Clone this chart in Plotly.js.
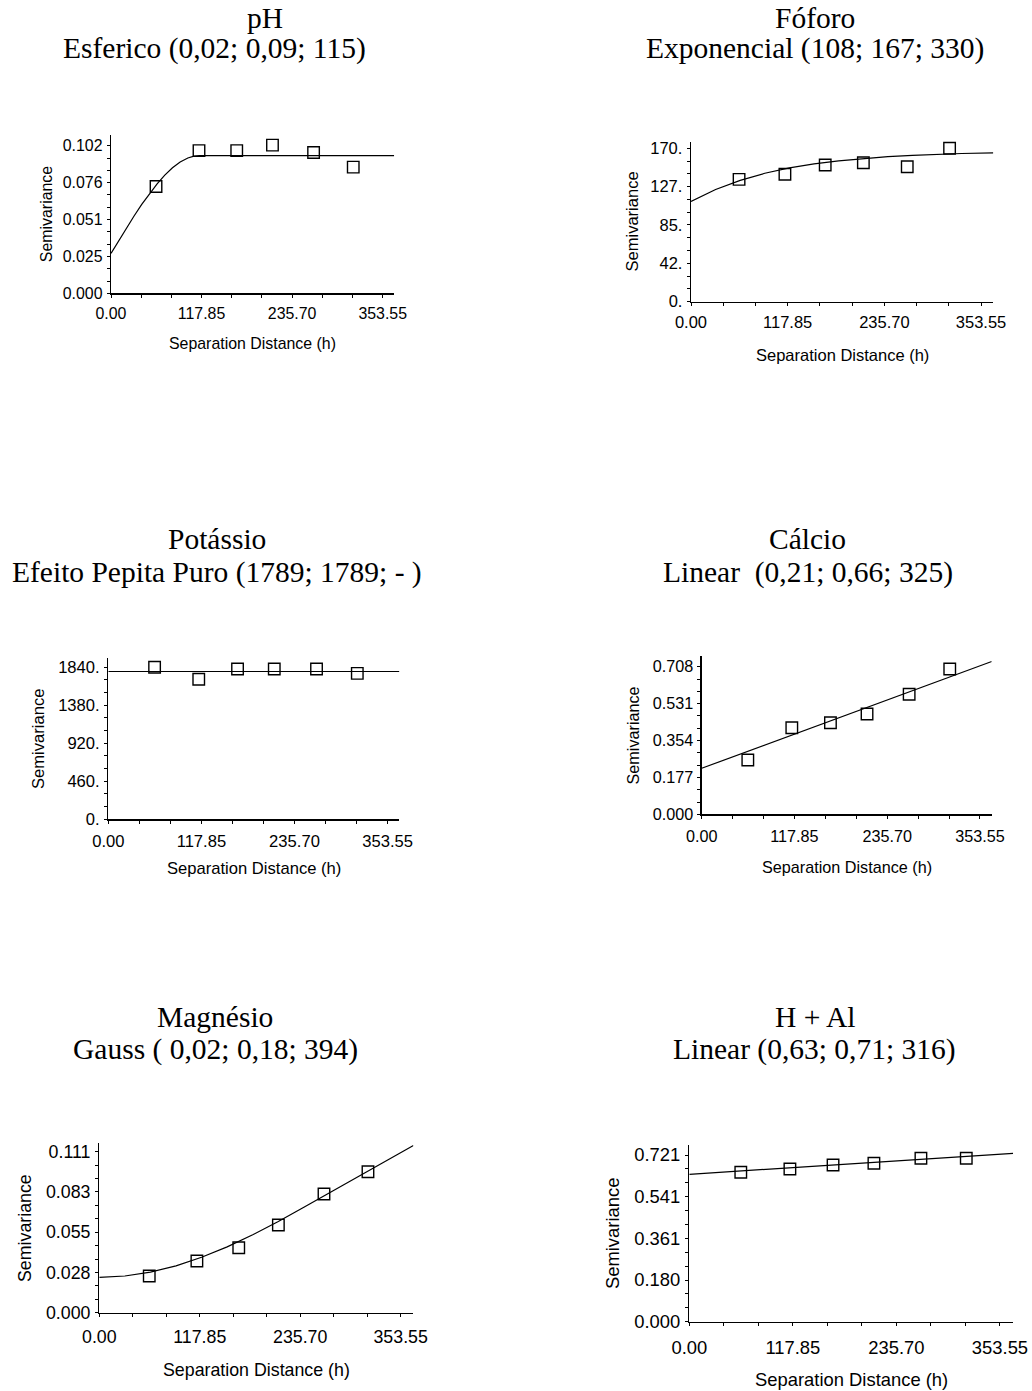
<!DOCTYPE html>
<html>
<head>
<meta charset="utf-8">
<script src="https://cdn.plot.ly/plotly-3.0.1.min.js"></script>
<style>html,body{margin:0;padding:0;background:#fff}</style>
</head>
<body>
<div id="chart" style="width:1032px;height:1391px"></div>
<script>
// ---- data -------------------------------------------------------------
// lag classes (separation distance h) shared by all variables
const lagDistance = [58.6, 114.5, 163.6, 210.1, 263.6, 315.2];

// experimental semivariances
const phSemivariance = [0.0737, 0.0985, 0.0985, 0.1023, 0.0972, 0.0871];
const fosforoSemivariance = [135.6, 141.2, 151.5, 154.0, 149.6, 170.0];
const potassioSemivariance = [1840, 1695, 1819, 1819, 1819, 1767];
const calcioSemivariance = [0.2605, 0.4154, 0.4394, 0.4811, 0.5756, 0.6970];
const magnesioSemivariance = [0.0253, 0.0356, 0.0448, 0.0605, 0.0818, 0.0972];
const hAlSemivariance = [0.6462, 0.6604, 0.6777, 0.6851, 0.7067, 0.7067];

// fitted model curves (h, gamma)
const phModelH = [0, 10, 20, 30, 40, 50, 60, 70, 80, 90, 100, 108, 115, 368.5];
const phModelGamma = [0.0276, 0.0364, 0.0450, 0.0534, 0.0614, 0.0689, 0.0756, 0.0816, 0.0867, 0.0907, 0.0934, 0.0947, 0.0951, 0.0951];
const fosforoModelH = [0, 30, 60, 90, 120, 150, 180, 210, 240, 270, 300, 330, 368.5];
const fosforoModelGamma = [111.0, 124.4, 134.5, 142.3, 148.2, 152.7, 156.1, 158.7, 160.7, 162.2, 163.3, 164.2, 165.0];
const potassioModelH = [0, 368.5];
const potassioModelGamma = [1789, 1789];
const calcioModelH = [0, 368.5];
const calcioModelGamma = [0.2207, 0.7330];
const magnesioModelH = [0, 30, 60, 90, 120, 150, 180, 210, 240, 270, 300, 330, 368.5];
const magnesioModelGamma = [0.0244, 0.0253, 0.0280, 0.0323, 0.0382, 0.0454, 0.0537, 0.0629, 0.0727, 0.0827, 0.0929, 0.1029, 0.1153];
const hAlModelH = [0, 368.5];
const hAlModelGamma = [0.6375, 0.7284];

// y tick values and their printed labels
const phTickVals = [0, 0.025475, 0.05095, 0.076425, 0.1019];
const phTickText = ['0.000', '0.025', '0.051', '0.076', '0.102'];
const fosforoTickVals = [0, 42.5, 85, 127.5, 170];
const fosforoTickText = ['0.', '42.', '85.', '127.', '170.'];
const potassioTickVals = [0, 460, 920, 1380, 1840];
const potassioTickText = ['0.', '460.', '920.', '1380.', '1840.'];
const calcioTickVals = [0, 0.177, 0.354, 0.531, 0.708];
const calcioTickText = ['0.000', '0.177', '0.354', '0.531', '0.708'];
const magnesioTickVals = [0, 0.02775, 0.0555, 0.08325, 0.111];
const magnesioTickText = ['0.000', '0.028', '0.055', '0.083', '0.111'];
const hAlTickVals = [0, 0.18025, 0.3605, 0.54075, 0.721];
const hAlTickText = ['0.000', '0.180', '0.361', '0.541', '0.721'];

// x ticks: 0.00, 117.85, 235.70, 353.55
const xTickStep = 117.85;

// titles
const variableNames = ['pH', 'Fóforo', 'Potássio', 'Cálcio', 'Magnésio', 'H + Al'];
const modelLabels = [
  'Esferico (0,02; 0,09; 115)',
  'Exponencial (108; 167; 330)',
  'Efeito Pepita Puro (1789; 1789; - )',
  'Linear\u00a0 (0,21; 0,66; 325)',
  'Gauss ( 0,02; 0,18; 394)',
  'Linear (0,63; 0,71; 316)'
];
const xAxisTitle = 'Separation Distance (h)';
const yAxisTitle = 'Semivariance';

// ---- layout of the six variograms (pixel boxes) ---------------------
const W = 1032, H = 1391;
const X_MAX = 368.5;
const panels = [
  {semi: phSemivariance, mh: phModelH, mg: phModelGamma, tv: phTickVals, tt: phTickText,
   l: 111, r: 394.2, t: 135, b: 293.3, ymax: 0.1093, font: 15.9, xGap: 2,
   xTitleY: 343, yTitleX: 46, n1: [265, 18], n2: [214, 49]},
  {semi: fosforoSemivariance, mh: fosforoModelH, mg: fosforoModelGamma, tv: fosforoTickVals, tt: fosforoTickText,
   l: 691, r: 993.3, t: 141.7, b: 301.7, ymax: 177.3, font: 16.5, xGap: 2,
   xTitleY: 355, yTitleX: 631.7, n1: [815, 18], n2: [815, 49]},
  {semi: potassioSemivariance, mh: potassioModelH, mg: potassioModelGamma, tv: potassioTickVals, tt: potassioTickText,
   l: 108.3, r: 399.4, t: 658.3, b: 819.3, ymax: 1949, font: 16.6, xGap: 3,
   xTitleY: 868, yTitleX: 38.3, n1: [217, 539], n2: [217, 572]},
  {semi: calcioSemivariance, mh: calcioModelH, mg: calcioModelGamma, tv: calcioTickVals, tt: calcioTickText,
   l: 701.7, r: 991.7, t: 656, b: 814.3, ymax: 0.7593, font: 16.2, xGap: 4,
   xTitleY: 867, yTitleX: 633.3, n1: [807, 539], n2: [808, 572]},
  {semi: magnesioSemivariance, mh: magnesioModelH, mg: magnesioModelGamma, tv: magnesioTickVals, tt: magnesioTickText,
   l: 99.3, r: 413.4, t: 1143.3, b: 1312.7, ymax: 0.1168, font: 17.8, xGap: 5,
   xTitleY: 1370, yTitleX: 25, n1: [215, 1017], n2: [215, 1049]},
  {semi: hAlSemivariance, mh: hAlModelH, mg: hAlModelGamma, tv: hAlTickVals, tt: hAlTickText,
   l: 689.3, r: 1013.1, t: 1145, b: 1321.7, ymax: 0.7643, font: 18.4, xGap: 6,
   xTitleY: 1379, yTitleX: 612.7, n1: [815, 1017], n2: [814, 1049]}
];

const px = v => v / W;         // horizontal pixel -> paper fraction
const py = v => 1 - v / H;     // vertical pixel -> paper fraction
const SANS = 'Liberation Sans, Arial, sans-serif';
const SERIF = 'Liberation Serif, Times New Roman, serif';
const TITLE_SIZE = 29.5;

const traces = [];
const layout = {
  width: W, height: H,
  margin: {l: 0, r: 0, t: 0, b: 0},
  paper_bgcolor: '#ffffff',
  plot_bgcolor: 'rgba(0,0,0,0)',
  showlegend: false,
  font: {family: SANS, color: '#000'},
  annotations: []
};

panels.forEach((p, i) => {
  const n = i + 1, o = i + 7;
  const xa = n === 1 ? 'x' : 'x' + n;
  const ya = n === 1 ? 'y' : 'y' + n;
  const xKey = n === 1 ? 'xaxis' : 'xaxis' + n;
  const yKey = n === 1 ? 'yaxis' : 'yaxis' + n;
  const tickFont = {family: SANS, size: p.font, color: '#000'};

  // fitted model
  traces.push({
    type: 'scatter', mode: 'lines', x: p.mh, y: p.mg, xaxis: xa, yaxis: ya,
    line: {color: '#000', width: 1.2}, hoverinfo: 'skip'
  });
  // experimental points
  traces.push({
    type: 'scatter', mode: 'markers', x: lagDistance, y: p.semi, xaxis: xa, yaxis: ya,
    marker: {symbol: 'square-open', size: 11.5, color: '#000', line: {width: 1.4, color: '#000'}},
    cliponaxis: false
  });

  const common = {showgrid: false, zeroline: false, fixedrange: true, tickcolor: '#000', tickwidth: 1};
  const xMinor = {tickmode: 'linear', tick0: 0, dtick: xTickStep / 3, tickwidth: 1, tickcolor: '#000', showgrid: false};
  const yMinor = {tickmode: 'linear', tick0: 0, dtick: p.tv[1] / 3, tickwidth: 1, tickcolor: '#000', showgrid: false};

  layout[xKey] = Object.assign({}, common, {
    domain: [px(p.l), px(p.r)], anchor: ya, range: [0, X_MAX],
    tickmode: 'linear', tick0: 0, dtick: xTickStep, tickformat: '.2f',
    ticks: 'outside', ticklen: 3, showline: true, linecolor: '#000', linewidth: 1.3,
    tickfont: tickFont, ticklabelstandoff: p.xGap,
    minor: Object.assign({}, xMinor, {ticks: 'outside', ticklen: 3})
  });
  layout[yKey] = Object.assign({}, common, {
    domain: [py(p.b), py(p.t)], anchor: xa, range: [0, p.ymax],
    tickmode: 'array', tickvals: p.tv, ticktext: p.tt,
    ticks: 'outside', ticklen: 3, showline: true, linecolor: '#000', linewidth: 1.3,
    tickfont: tickFont, ticklabelstandoff: 1,
    minor: Object.assign({}, yMinor, {ticks: 'outside', ticklen: 3})
  });
  // second set of axes carries the inner half of each tick mark
  layout['xaxis' + o] = Object.assign({}, common, {
    overlaying: xa, anchor: ya, range: [0, X_MAX],
    tickmode: 'linear', tick0: 0, dtick: xTickStep,
    ticks: 'inside', ticklen: 4, showticklabels: false, showline: false,
    minor: Object.assign({}, xMinor, {ticks: 'inside', ticklen: 4})
  });
  layout['yaxis' + o] = Object.assign({}, common, {
    overlaying: ya, anchor: xa, range: [0, p.ymax],
    tickmode: 'array', tickvals: p.tv,
    ticks: 'inside', ticklen: 4, showticklabels: false, showline: false,
    minor: Object.assign({}, yMinor, {ticks: 'inside', ticklen: 4})
  });

  // variable name and fitted model
  layout.annotations.push({
    xref: 'paper', yref: 'paper', x: px(p.n1[0]), y: py(p.n1[1]),
    xanchor: 'center', yanchor: 'middle', showarrow: false,
    text: variableNames[i], font: {family: SERIF, size: TITLE_SIZE, color: '#000'}
  });
  layout.annotations.push({
    xref: 'paper', yref: 'paper', x: px(p.n2[0]), y: py(p.n2[1]),
    xanchor: 'center', yanchor: 'middle', showarrow: false,
    text: modelLabels[i], font: {family: SERIF, size: TITLE_SIZE, color: '#000'}
  });
  // axis titles
  layout.annotations.push({
    xref: 'paper', yref: 'paper', x: px((p.l + p.r) / 2), y: py(p.xTitleY),
    xanchor: 'center', yanchor: 'middle', showarrow: false,
    text: xAxisTitle, font: {family: SANS, size: p.font, color: '#000'}
  });
  layout.annotations.push({
    xref: 'paper', yref: 'paper', x: px(p.yTitleX), y: py((p.t + p.b) / 2),
    xanchor: 'center', yanchor: 'middle', showarrow: false, textangle: -90,
    text: yAxisTitle, font: {family: SANS, size: p.font, color: '#000'}
  });
});

Plotly.newPlot('chart', traces, layout, {staticPlot: true, displayModeBar: false});
</script>
</body>
</html>
